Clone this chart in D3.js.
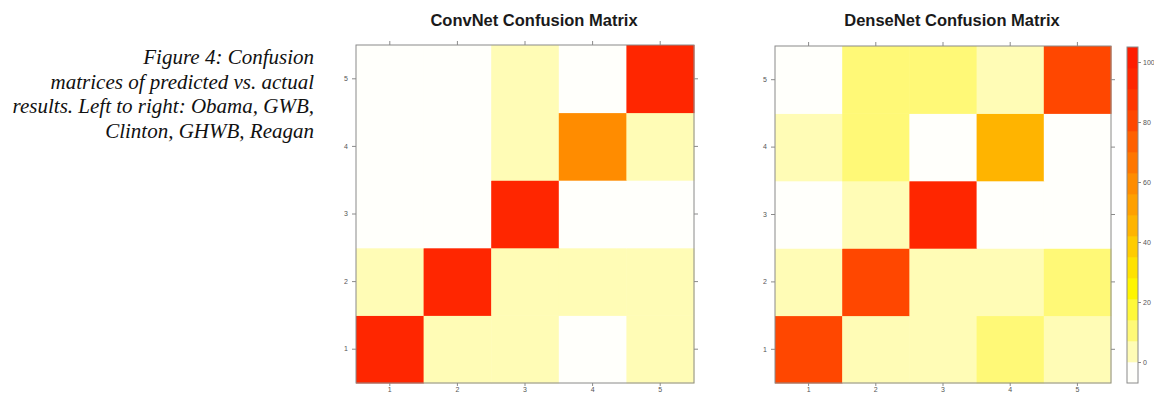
<!DOCTYPE html>
<html>
<head>
<meta charset="utf-8">
<script src="https://cdn.jsdelivr.net/npm/d3@7"></script>
<style>
  html, body { margin: 0; padding: 0; background: #ffffff; }
  svg { display: block; }
</style>
</head>
<body>
<svg id="chart" width="1154" height="394"></svg>
<script>
// ---- data ----
const categories = [1, 2, 3, 4, 5];
// rows indexed by y = 1..5 (bottom to top); columns x = 1..5
const convnetRows = [
  [95, 5, 5, 0, 5],   // y = 1
  [5, 95, 5, 5, 5],   // y = 2
  [0, 0, 95, 0, 0],   // y = 3
  [0, 0, 5, 60, 5],   // y = 4
  [0, 0, 5, 0, 95]    // y = 5
];
const densenetRows = [
  [80, 5, 5, 10, 5],  // y = 1
  [5, 80, 5, 5, 10],  // y = 2
  [0, 5, 95, 0, 0],   // y = 3
  [5, 10, 0, 45, 0],  // y = 4
  [0, 10, 10, 5, 80]  // y = 5
];
const titles = ["ConvNet Confusion Matrix", "DenseNet Confusion Matrix"];
const colorBreaks = [-7, 0, 7, 14, 21, 28, 35, 42, 49, 56, 63, 70, 77, 84, 91, 98, 105];
const colorPalette = ["#FFFFFB", "#FFFCB6", "#FFF977", "#FFF83A", "#FFF500", "#FFE200",
  "#FFCC00", "#FFB400", "#FFA000", "#FF8C00", "#FF7600", "#FF6000", "#FF4700",
  "#FF3600", "#FF2600", "#FF1C00"];
const legendTicks = [0, 20, 40, 60, 80, 100];
const captionLines = ["Figure 4: Confusion", "matrices of predicted vs. actual",
  "results. Left to right: Obama, GWB,", "Clinton, GHWB, Reagan"];

// ---- drawing ----
const svg = d3.select("#chart");
const colorOf = v => colorPalette[Math.max(0, d3.bisectLeft(colorBreaks, v) - 1)];
const axisColor = "#8a8a8a";
const labelColor = "#555";

// caption
const cap = svg.append("text")
  .attr("font-family", "'Liberation Serif', 'Times New Roman', serif")
  .attr("font-style", "italic")
  .attr("font-size", 21)
  .attr("fill", "#111")
  .attr("text-anchor", "end");
captionLines.forEach((l, i) => {
  cap.append("tspan").attr("x", 314).attr("y", 64 + i * 24.5).text(l);
});

const panels = [
  { rows: convnetRows, x0: 356, x1: 694, y0: 45, y1: 383, titleX: 534 },
  { rows: densenetRows, x0: 775, x1: 1111, y0: 46, y1: 383, titleX: 952 }
];

function styleAxis(g, showLabels) {
  g.select(".domain").remove();
  g.selectAll(".tick line").attr("stroke", axisColor);
  g.selectAll(".tick text")
    .attr("fill", labelColor)
    .attr("font-size", 7)
    .attr("font-family", "'Liberation Sans', Arial, sans-serif")
    .style("display", showLabels ? null : "none");
}

panels.forEach((p, pi) => {
  const x = d3.scaleBand().domain(categories).range([p.x0, p.x1]);
  const y = d3.scaleBand().domain(categories).range([p.y1, p.y0]);
  const g = svg.append("g");

  const cells = [];
  p.rows.forEach((row, ri) => row.forEach((v, ci) => cells.push({ x: categories[ci], y: categories[ri], v })));
  g.selectAll("rect.cell").data(cells).join("rect")
    .attr("class", "cell")
    .attr("x", d => x(d.x))
    .attr("y", d => y(d.y))
    .attr("width", x.bandwidth() + 0.5)
    .attr("height", y.bandwidth() + 0.5)
    .attr("fill", d => colorOf(d.v));

  g.append("rect")
    .attr("x", p.x0).attr("y", p.y0)
    .attr("width", p.x1 - p.x0).attr("height", p.y1 - p.y0)
    .attr("fill", "none").attr("stroke", axisColor).attr("stroke-width", 1);

  const xa = d3.axisBottom(x).tickSize(3).tickPadding(1);
  g.append("g").attr("transform", `translate(0,${p.y1})`).call(xa).call(s => styleAxis(s, true));
  g.append("g").attr("transform", `translate(0,${p.y0})`).call(d3.axisTop(x).tickSize(4)).call(s => styleAxis(s, false));
  g.append("g").attr("transform", `translate(${p.x0},0)`).call(d3.axisLeft(y).tickSize(4).tickPadding(4)).call(s => styleAxis(s, true));
  g.append("g").attr("transform", `translate(${p.x1},0)`).call(d3.axisRight(y).tickSize(4)).call(s => styleAxis(s, false));

  svg.append("text")
    .attr("x", p.titleX).attr("y", 26)
    .attr("text-anchor", "middle")
    .attr("font-family", "'Liberation Sans', Arial, sans-serif")
    .attr("font-weight", "bold")
    .attr("font-size", 16.5)
    .attr("fill", "#1a1a1a")
    .text(titles[pi]);
});

// colour key
const ck = { x0: 1127, x1: 1138, y0: 47, y1: 383 };
const ky = d3.scaleLinear().domain([colorBreaks[0], colorBreaks[colorBreaks.length - 1]]).range([ck.y1, ck.y0]);
const kg = svg.append("g");
kg.selectAll("rect.seg").data(colorPalette).join("rect")
  .attr("class", "seg")
  .attr("x", ck.x0)
  .attr("width", ck.x1 - ck.x0)
  .attr("y", (c, i) => ky(colorBreaks[i + 1]))
  .attr("height", (c, i) => ky(colorBreaks[i]) - ky(colorBreaks[i + 1]) + 0.3)
  .attr("fill", c => c);
kg.append("rect")
  .attr("x", ck.x0).attr("y", ck.y0)
  .attr("width", ck.x1 - ck.x0).attr("height", ck.y1 - ck.y0)
  .attr("fill", "none").attr("stroke", axisColor);
kg.append("g").attr("transform", `translate(${ck.x1},0)`)
  .call(d3.axisRight(ky).tickValues(legendTicks).tickSize(3).tickPadding(2))
  .call(s => styleAxis(s, true));
</script>
</body>
</html>
